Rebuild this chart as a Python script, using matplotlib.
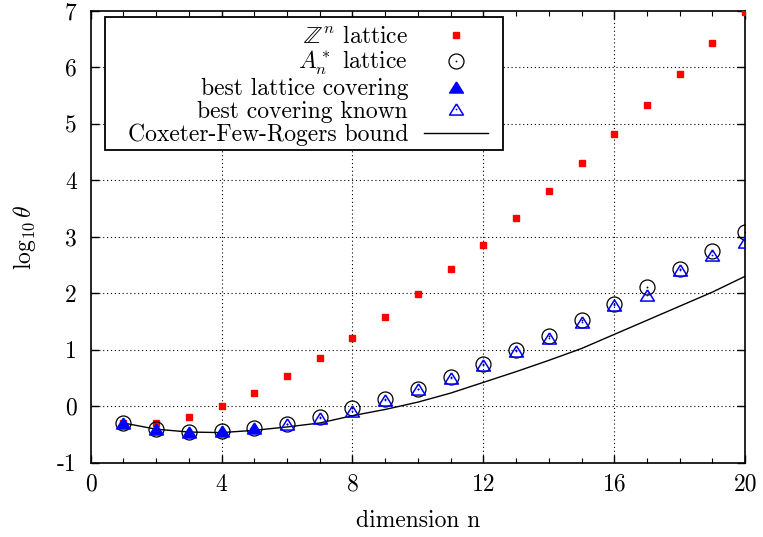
import matplotlib
matplotlib.use('Agg')
import matplotlib.pyplot as plt
from matplotlib.ticker import MultipleLocator, FixedLocator
from matplotlib.lines import Line2D
from matplotlib.patches import Rectangle

plt.rcParams['font.family'] = 'cmr10'
plt.rcParams['mathtext.fontset'] = 'cm'
plt.rcParams['axes.unicode_minus'] = False
plt.rcParams['axes.formatter.use_mathtext'] = False

# ---- data ----
dims = list(range(1, 21))
zn_vals = [-0.30, -0.30, -0.19, 0.00, 0.24, 0.53, 0.85, 1.20, 1.58, 1.99,
           2.42, 2.86, 3.33, 3.81, 4.31, 4.82, 5.34, 5.88, 6.43, 6.99]
an_vals = [-0.30, -0.41, -0.46, -0.45, -0.39, -0.31, -0.19, -0.04, 0.12, 0.31,
           0.52, 0.75, 0.99, 1.25, 1.53, 1.81, 2.11, 2.42, 2.75, 3.08]
best_lat_dims = [1, 2, 3, 4, 5]
best_lat_vals = [-0.30, -0.41, -0.46, -0.45, -0.39]
best_known_dims = list(range(6, 21))
best_known_vals = [-0.32, -0.21, -0.08, 0.11, 0.30, 0.50, 0.73, 0.97, 1.21,
                   1.49, 1.79, 1.96, 2.41, 2.68, 2.91]
cfr_vals = [-0.30, -0.41, -0.46, -0.47, -0.43, -0.37, -0.30, -0.17, -0.06, 0.07,
            0.23, 0.42, 0.61, 0.81, 1.02, 1.27, 1.52, 1.77, 2.02, 2.30]
xticks = [0, 4, 8, 12, 16, 20]
yticks = [-1, 0, 1, 2, 3, 4, 5, 6, 7]

labels = [r'$\mathbb{Z}^n$ lattice', r'$A_n^*$ lattice', 'best lattice covering',
          'best covering known', 'Coxeter-Few-Rogers bound']

FS = 17
RED = '#ff0000'
BLUE = '#0000ff'
tri = [(0, 0.8), (-1, -0.8), (1, -0.8), (0, 0.8)]

sq_kw = dict(ls='none', marker='s', ms=5, mfc=RED, mec=RED)
circ_kw = dict(ls='none', marker='o', ms=10.8, mfc='none', mec='black', mew=0.9)
ftri_kw = dict(ls='none', marker=tri, ms=10, mfc=BLUE, mec=BLUE, mew=1.0)
otri_kw = dict(ls='none', marker=tri, ms=10, mfc='none', mec=BLUE, mew=1.1)
dot_k = dict(ls='none', marker='o', ms=1.3, mfc='black', mec='none')
dot_b = dict(ls='none', marker='o', ms=1.3, mfc=BLUE, mec='none')

W, H = 763, 537
AX_L, AX_R, AX_T, AX_B = 90.7, 745.2, 11.0, 462.5
fig = plt.figure(figsize=(W / 100, H / 100), dpi=100)
ax = fig.add_axes([AX_L / W, (H - AX_B) / H, (AX_R - AX_L) / W, (AX_B - AX_T) / H])

ax.plot(dims, cfr_vals, color='black', lw=1.0, zorder=2)
ax.plot(dims, zn_vals, zorder=3, **sq_kw)
ax.plot(dims, an_vals, zorder=4, **circ_kw)
ax.plot(dims, an_vals, zorder=4, **dot_k)
ax.plot(best_lat_dims, best_lat_vals, zorder=5, **ftri_kw)
ax.plot(best_known_dims, best_known_vals, zorder=5, **otri_kw)
ax.plot(best_known_dims, best_known_vals, zorder=5, **dot_b)

ax.set_xlim(0, 20)
ax.set_ylim(-1, 7)
ax.xaxis.set_major_locator(FixedLocator(xticks))
ax.xaxis.set_minor_locator(MultipleLocator(1))
ax.yaxis.set_major_locator(FixedLocator(yticks))
ax.tick_params(which='both', direction='in', top=True, right=True, labelsize=FS)
ax.tick_params(axis='x', pad=8)
ax.tick_params(axis='y', pad=10)
ax.tick_params(which='major', length=6, width=1.0)
ax.tick_params(which='minor', length=3.5, width=0.8)
for s in ax.spines.values():
    s.set_linewidth(1.2)

for x in xticks[1:-1]:
    ax.axvline(x, color='black', ls=(0, (1, 2.5)), lw=0.8, zorder=1)
for y in yticks[1:-1]:
    ax.axhline(y, color='black', ls=(0, (1, 2.5)), lw=0.8, zorder=1)

ax.set_xlabel('dimension n', fontsize=FS, labelpad=10)
ax.set_ylabel(r'$\log_{10}\theta$', fontsize=FS, labelpad=14)

# legend box (pixel extents converted to axes fraction)
def fx(px):
    return (px - AX_L) / (AX_R - AX_L)

def fy(py):
    return (AX_B - py) / (AX_B - AX_T)

box_l, box_r, box_t, box_b = 105, 503, 17, 150
ax.add_patch(Rectangle((fx(box_l), fy(box_b)), fx(box_r) - fx(box_l), fy(box_t) - fy(box_b),
                       transform=ax.transAxes, facecolor='white', edgecolor='black',
                       lw=1.3, zorder=6))

handles = [
    Line2D([], [], **sq_kw),
    (Line2D([], [], **circ_kw), Line2D([], [], **dot_k)),
    Line2D([], [], **ftri_kw),
    (Line2D([], [], **otri_kw), Line2D([], [], **dot_b)),
    Line2D([], [], color='black', lw=1.0),
]
leg = ax.legend(handles, labels, loc='upper right', bbox_to_anchor=(fx(495), fy(19)),
                borderaxespad=0, markerfirst=False, fontsize=FS, frameon=False,
                handlelength=2.7, handletextpad=0.68, labelspacing=0.03, borderpad=0.3)
leg.set_zorder(7)
for col in leg._legend_box.get_children()[1].get_children():
    col.align = 'right'

fig.savefig('out.png', dpi=100)
